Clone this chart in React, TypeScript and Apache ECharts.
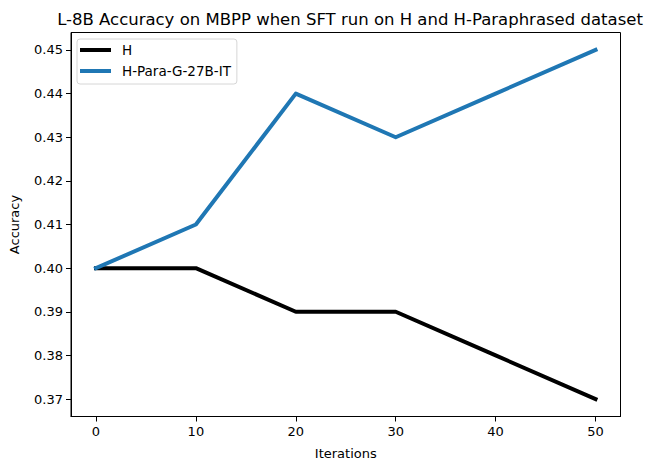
import { useEffect, useRef } from "react";
import * as echarts from "echarts";

const iterations = [0, 10, 20, 30, 40, 50];
const hAccuracy = [0.4, 0.4, 0.39, 0.39, 0.38, 0.37];
const paraAccuracy = [0.4, 0.41, 0.44, 0.43, 0.44, 0.45];
const xTicks = [0, 10, 20, 30, 40, 50];
const yTicks = [0.37, 0.38, 0.39, 0.4, 0.41, 0.42, 0.43, 0.44, 0.45];
const seriesNames = ["H", "H-Para-G-27B-IT"];

const FONT = "DejaVu Sans";

export default function App(): JSX.Element {
  const rootRef = useRef<HTMLDivElement | null>(null);

  useEffect(() => {
    document.body.style.margin = "0";
    if (!rootRef.current) return undefined;
    const chart = echarts.init(rootRef.current, undefined, { renderer: "svg" });

    const option: echarts.EChartsOption = {
      animation: false,
      backgroundColor: "#ffffff",
      textStyle: { fontFamily: FONT, color: "#000" },
      title: {
        text: "L-8B Accuracy on MBPP when SFT run on H and H-Paraphrased dataset",
        left: 345,
        textAlign: "center",
        top: 6,
        textStyle: { fontFamily: FONT, fontSize: 16.5, fontWeight: "normal", color: "#000" }
      },
      legend: {
        left: 77,
        top: 39,
        orient: "vertical",
        icon: "rect",
        itemWidth: 31,
        itemHeight: 4,
        itemGap: 7,
        padding: [4, 6, 6, 3],
        backgroundColor: "rgba(255,255,255,0.8)",
        borderColor: "#d6d6d6",
        borderWidth: 1,
        borderRadius: 3,
        textStyle: {
          fontFamily: FONT,
          fontSize: 13.5,
          lineHeight: 14,
          color: "#000",
          padding: [0, 0, 0, 6]
        },
        data: seriesNames
      },
      grid: { left: 70.5, right: 28.5, top: 32.5, bottom: 53.5, show: true, borderColor: "#000", borderWidth: 1 },
      xAxis: {
        type: "value",
        min: -2.5,
        max: 52.5,
        name: "Iterations",
        nameLocation: "middle",
        nameGap: 30,
        nameTextStyle: { fontFamily: FONT, fontSize: 13, color: "#000" },
        axisLine: { show: true, onZero: false, lineStyle: { color: "#000", width: 1 } },
        axisTick: { show: true, customValues: xTicks, length: 5, lineStyle: { color: "#000" } },
        axisLabel: {
          customValues: xTicks,
          margin: 8,
          fontFamily: FONT,
          fontSize: 13,
          color: "#000",
          formatter: (v: number) => String(v)
        },
        splitLine: { show: false }
      },
      yAxis: {
        type: "value",
        min: 0.366,
        max: 0.454,
        name: "Accuracy",
        nameLocation: "middle",
        nameGap: 50,
        nameTextStyle: { fontFamily: FONT, fontSize: 13, color: "#000" },
        axisLine: { show: true, onZero: false, lineStyle: { color: "#000", width: 1 } },
        axisTick: { show: true, customValues: yTicks, length: 5, lineStyle: { color: "#000" } },
        axisLabel: {
          customValues: yTicks,
          margin: 8,
          fontFamily: FONT,
          fontSize: 13,
          color: "#000",
          formatter: (v: number) => v.toFixed(2)
        },
        splitLine: { show: false }
      },
      series: [
        {
          name: seriesNames[0],
          type: "line",
          showSymbol: false,
          color: "#000000",
          lineStyle: { width: 4, color: "#000000", cap: "square", join: "round" },
          data: iterations.map((x, i) => [x, hAccuracy[i]])
        },
        {
          name: seriesNames[1],
          type: "line",
          showSymbol: false,
          color: "#1f77b4",
          lineStyle: { width: 4, color: "#1f77b4", cap: "square", join: "round" },
          data: iterations.map((x, i) => [x, paraAccuracy[i]])
        }
      ]
    };

    chart.setOption(option);
    return () => {
      chart.dispose();
    };
  }, []);

  return <div ref={rootRef} style={{ width: 649, height: 470 }} />;
}
